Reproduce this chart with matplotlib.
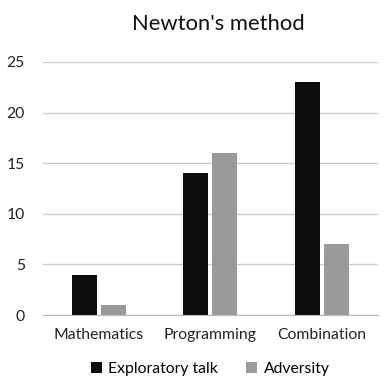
import matplotlib
matplotlib.use("Agg")
import matplotlib.pyplot as plt
import numpy as np

categories = ["Mathematics", "Programming", "Combination"]
exploratory_talk = [4, 14, 23]
adversity = [1, 16, 7]
yticks = [0, 5, 10, 15, 20, 25]

plt.rcParams['font.family'] = ['Lato', 'DejaVu Sans']

fig = plt.figure(figsize=(3.86, 3.82), dpi=100)
ax = fig.add_axes([0.111, 0.175, 0.868, 0.663])

x = np.arange(len(categories))
w = 0.225
ax.bar(x - 0.13, exploratory_talk, w, color='#0d0d0d', label='Exploratory talk', zorder=3)
ax.bar(x + 0.13, adversity, w, color='#9a9a9a', label='Adversity', zorder=3)

ax.set_xlim(-0.5, 2.5)
ax.set_ylim(0, 25)
ax.set_yticks(yticks)
ax.set_xticks(x)
ax.set_xticklabels(categories)
ax.tick_params(length=0, labelsize=11.3, colors='#222222')
ax.tick_params(axis='x', pad=9)
ax.tick_params(axis='y', pad=13)
ax.yaxis.grid(True, color='#cccccc', linewidth=1, zorder=0)
for s in ['top', 'right', 'left']:
    ax.spines[s].set_visible(False)
ax.spines['bottom'].set_color('#bbbbbb')
ax.spines['bottom'].set_zorder(4)

fig.text(0.565, 0.938, "Newton's method", ha='center', va='center', fontsize=15.8, color='#111111')
fig.legend(loc='center', bbox_to_anchor=(0.545, 0.035), ncol=2, frameon=False,
           fontsize=11.3, handlelength=0.7, handleheight=0.7, handletextpad=0.4,
           columnspacing=1.8)

fig.savefig("out.png", dpi=100)
